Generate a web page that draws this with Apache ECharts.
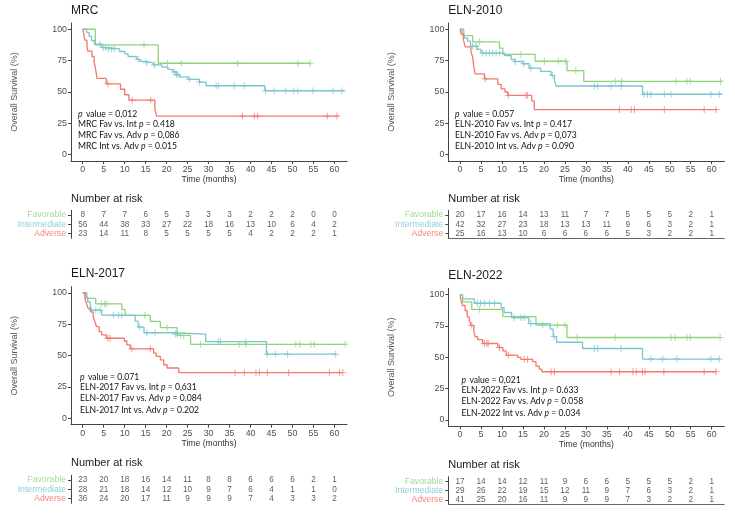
<!DOCTYPE html>
<html><head><meta charset="utf-8">
<script src="https://cdn.jsdelivr.net/npm/echarts@6/dist/echarts.min.js"></script>
<style>html,body{margin:0;padding:0;background:#fff}#c{width:735px;height:513px}</style>
</head><body><div id="c"></div>
<script>
// ---------- shared ----------
const timeTicks = [0,5,10,15,20,25,30,35,40,45,50,55,60];
const survTicks = [0,25,50,75,100];
const groups = ['Favorable','Intermediate','Adverse'];
const riskTimes = [0,5,10,15,20,25,30,35,40,45,50,55,60];

// ---------- MRC ----------
const mrcFavT = [0,3.0,18.0,54.2];
const mrcFavS = [100,87.5,72.9,72.9];
const mrcFavC = [14.6,20.2,23.5,36.9,51.3,54.2];
const mrcIntT = [0,0.9,1.5,2.1,2.8,4.5,6.1,8.8,10.0,10.8,12.8,13.6,15.2,16.8,18.9,20.3,21.5,22.3,23.1,25.1,27.8,29.4,43.4,62.4];
const mrcIntS = [100,97.6,94.4,91.0,88.1,85.4,84.4,82.3,80.4,78.3,76.0,74.4,73.3,71.7,69.9,68.0,66.0,63.8,62.0,60.1,57.9,55.0,51.0,51.0];
const mrcIntC = [4.1,4.9,5.4,6.1,6.9,7.5,13.2,15.2,17.1,21.9,22.3,22.7,25.4,27.8,31.8,32.3,36.1,38.5,43.6,45.6,48.4,50.3,51.3,54.9,59.7,61.8];
const mrcAdvT = [0,0.3,0.5,1.0,1.2,2.2,2.7,3.0,3.2,3.4,5.6,9.0,10.0,11.0,17.2,17.6,61.0];
const mrcAdvS = [100,95.7,91.3,87.0,82.6,78.3,73.9,69.6,65.2,60.9,56.5,52.2,47.8,43.5,36.3,30.8,30.8];
const mrcAdvC = [6.0,11.8,16.2,38.1,40.9,41.7,58.3,60.6];
const mrcRiskFav = [8,7,7,6,5,3,3,3,2,2,2,0,0];
const mrcRiskInt = [56,44,38,33,27,22,18,16,13,10,6,4,2];
const mrcRiskAdv = [23,14,11,8,5,5,5,5,4,2,2,2,1];
const mrcNotes = ['value = 0,012','MRC Fav vs. Int ','= 0.418','MRC Fav vs. Adv ','= 0,086','MRC Int vs. Adv ','= 0.015'];

// ---------- ELN-2010 ----------
const e10FavT = [0,0.9,3.0,9.4,10.2,17.9,25.5,29.5,62.4];
const e10FavS = [100,95,90,85,80,74.5,67,58.5,58.5];
const e10FavC = [4.6,14.5,20.1,23.4,25.2,27.6,37.0,38.5,51.5,54.1,54.9,62.1];
const e10IntT = [0,0.5,1.0,1.8,2.5,4.1,5.0,10.6,12.2,13.0,15.0,16.5,19.2,21.7,22.5,22.9,43.5,62.4];
const e10IntS = [100,95.6,93,90.5,86.5,84,81,79,76,74.3,72.5,69,66.4,63.2,59.3,54.8,48.2,48.2];
const e10IntC = [3.0,3.8,5.4,6.2,7.0,7.8,8.6,9.4,13.1,15.2,16.9,22.0,32.0,32.8,36.0,38.4,43.9,44.7,45.5,48.7,50.3,59.8,61.8];
const e10AdvT = [0,0.3,0.8,1.2,2.6,3.0,3.2,3.4,3.6,5.8,9.0,9.8,10.7,11.4,17.1,17.7,61.2];
const e10AdvS = [100,96,92,86,82,78,72,68,64.5,60.5,56,52.5,50,47.3,43,36,36];
const e10AdvC = [6.0,11.5,15.7,16.1,38.0,40.8,41.6,48.7,58.2,61.0];
const e10RiskFav = [20,17,16,14,13,11,7,7,5,5,5,2,1];
const e10RiskInt = [42,32,27,23,18,13,13,11,9,6,3,2,1];
const e10RiskAdv = [25,16,13,10,6,6,6,6,5,3,2,2,1];
const e10Notes = ['value = 0.057','ELN-2010 Fav vs. Int ','= 0.417','ELN-2010 Fav vs. Adv ','= 0,073','ELN-2010 Int vs. Adv ','= 0.090'];

// ---------- ELN-2017 ----------
const e17FavT = [0,1.0,3.1,9.3,10.1,16.1,18.5,22.5,25.7,62.6];
const e17FavS = [100,95.7,91.3,86.9,82.2,77.3,72.4,66.2,59.1,59.1];
const e17FavC = [4.5,5.2,5.7,14.8,20.1,23.4,24.1,28.1,37.3,38.9,50.8,51.8,54.4,55.2,62.6];
const e17IntT = [0,0.7,1.2,1.8,4.5,12.5,13.2,14.6,21.5,29.3,43.8,60.4];
const e17IntS = [100,96.4,92.9,86.3,82.3,77.5,72.8,68.3,67.2,61.2,51.2,51.2];
const e17IntC = [2.1,3.1,4.1,7.3,8.5,9.3,13.6,15.3,17.2,22.1,22.5,32.3,32.8,38.9,44.0,45.9,48.8,60.3];
const e17AdvT = [0,0.5,0.9,1.3,1.9,2.5,2.9,3.3,3.9,4.5,5.6,9.9,10.5,11.3,16.9,17.5,18.5,19.3,20.1,22.9,62.0];
const e17AdvS = [100,95.5,91.6,87.6,84.9,81.0,77.0,73.1,69.2,66.6,63.9,61.7,58.6,55.5,52.0,49.4,46.7,42.8,40.2,36.5,36.5];
const e17AdvC = [6.0,6.5,11.7,16.1,36.3,38.5,41.3,42.1,44.0,49.1,58.8,61.2,62.0];
const e17RiskFav = [23,20,18,16,14,11,8,8,6,6,6,2,1];
const e17RiskInt = [28,21,18,14,12,10,9,7,6,4,1,1,0];
const e17RiskAdv = [36,24,20,17,11,9,9,9,7,4,3,3,2];
const e17Notes = ['value = 0.071','ELN-2017 Fav vs. Int ','= 0,631','ELN-2017 Fav vs. Adv ','= 0.084','ELN-2017 Int vs. Adv ','= 0.202'];

// ---------- ELN-2022 ----------
const e22FavT = [0,0.6,2.8,10.2,18.1,25.5,62.0];
const e22FavS = [100,94.1,88.2,82.4,75.6,65.8,65.8];
const e22FavC = [4.6,19.7,23.2,25.0,27.9,37.0,50.3,51.3,54.1,54.9,62.0];
const e22IntT = [0,0.6,3.4,9.8,10.5,12.3,16.4,21.5,22.2,23.0,29.2,43.5,62.0];
const e22IntS = [100,96.6,93.1,89.6,85.7,81.6,76.8,72.5,66.5,62.0,57.0,48.6,48.6];
const e22IntC = [4.1,4.9,5.8,7.0,8.2,12.9,14.5,15.3,16.9,22.4,32.0,32.8,38.4,45.5,48.3,51.7,59.8,61.8];
const e22AdvT = [0,0.2,0.6,1.2,1.7,2.2,2.6,3.3,3.6,4.2,5.4,9.0,10.2,11.0,13.7,14.5,17.3,18.1,18.9,19.5,61.0];
const e22AdvS = [100,96.1,91.3,87.3,82.1,79.4,75.4,70.2,66.3,64.1,61.0,57.8,55.1,51.7,50.0,48.3,46.5,43.0,40.5,38.5,38.5];
const e22AdvC = [2.8,5.8,6.4,6.7,9.4,11.5,15.3,16.1,21.7,22.5,36.0,38.0,41.2,42.0,43.5,44.1,48.6,58.2,61.0];
const e22RiskFav = [17,14,14,12,11,9,6,6,5,5,5,2,1];
const e22RiskInt = [29,26,22,19,15,12,11,9,7,6,3,2,1];
const e22RiskAdv = [41,25,20,16,11,9,9,9,7,3,2,2,1];
const e22Notes = ['value = 0,021','ELN-2022 Fav vs. Int ','= 0.633','ELN-2022 Fav vs. Adv ','= 0.058','ELN-2022 Int vs. Adv ','= 0.034'];

// ---------- styles / layout ----------
const COLORS = ['#8fd47c','#7cc5cf','#f5786a'];
const LABEL_COLORS = ['#a3dc93','#8fcfd8','#f8887a'];
const AXIS = '#444';
const W = 276, H = 138, RH = 28;
const XMIN = -2.8, XMAX = 63;

const panels = [
  {title:'MRC', L:71, T:23, RT:210.3, titleTop:5, riskTitleTop:193, noteX:78, noteY:108, riskLine:false,
   curves:[[mrcFavT,mrcFavS,mrcFavC],[mrcIntT,mrcIntS,mrcIntC],[mrcAdvT,mrcAdvS,mrcAdvC]],
   risk:[mrcRiskFav,mrcRiskInt,mrcRiskAdv], notes:mrcNotes},
  {title:'ELN-2010', L:448.3, T:23, RT:210.3, titleTop:5, riskTitleTop:193, noteX:455, noteY:108, riskLine:true,
   curves:[[e10FavT,e10FavS,e10FavC],[e10IntT,e10IntS,e10IntC],[e10AdvT,e10AdvS,e10AdvC]],
   risk:[e10RiskFav,e10RiskInt,e10RiskAdv], notes:e10Notes},
  {title:'ELN-2017', L:71, T:286.7, RT:475.3, titleTop:268, riskTitleTop:457, noteX:80, noteY:371.5, riskLine:false,
   curves:[[e17FavT,e17FavS,e17FavC],[e17IntT,e17IntS,e17IntC],[e17AdvT,e17AdvS,e17AdvC]],
   risk:[e17RiskFav,e17RiskInt,e17RiskAdv], notes:e17Notes},
  {title:'ELN-2022', L:448.3, T:288.3, RT:476.7, titleTop:270, riskTitleTop:459, noteX:461.5, noteY:374.5, riskLine:true,
   curves:[[e22FavT,e22FavS,e22FavC],[e22IntT,e22IntS,e22IntC],[e22AdvT,e22AdvS,e22AdvC]],
   risk:[e22RiskFav,e22RiskInt,e22RiskAdv], notes:e22Notes}
];

const PLUS = 'path://M-0.14,-1L0.14,-1L0.14,-0.14L1,-0.14L1,0.14L0.14,0.14L0.14,1L-0.14,1L-0.14,0.14L-1,0.14L-1,-0.14L-0.14,-0.14Z';
function survAt(T,S,t){ let v=S[0]; for(let i=0;i<T.length;i++){ if(T[i]<=t) v=S[i]; } return v; }

const option = {animation:false, backgroundColor:'#fff', title:[], grid:[], xAxis:[], yAxis:[], series:[], graphic:[]};
const FONT = '"Liberation Sans", Arial, sans-serif';
const NOTEFONT = 'Lato, "Open Sans", sans-serif';

panels.forEach((p,pi)=>{
  const gKM = pi*2, gR = pi*2+1;
  option.title.push({text:p.title, left:p.L, top:p.titleTop, padding:0,
    textStyle:{fontFamily:FONT, fontSize:12, fontWeight:'normal', color:'#1a1a1a'}});
  option.title.push({text:'Number at risk', left:p.L, top:p.riskTitleTop, padding:0,
    textStyle:{fontFamily:FONT, fontSize:11, fontWeight:'normal', color:'#1a1a1a'}});
  option.grid.push({left:p.L, top:p.T, width:W, height:H});
  option.grid.push({left:p.L, top:p.RT, width:W, height:RH});
  option.xAxis.push({type:'value', gridIndex:gKM, min:XMIN, max:XMAX,
    name:'Time (months)', nameLocation:'middle', nameGap:14,
    nameTextStyle:{fontFamily:FONT, fontSize:8.6, color:'#333'},
    axisLine:{show:true, onZero:false, lineStyle:{color:AXIS, width:1}},
    axisTick:{show:true, length:3, customValues:timeTicks, lineStyle:{color:AXIS}},
    axisLabel:{customValues:timeTicks, fontFamily:FONT, fontSize:8.8, color:'#4d4d4d', margin:4},
    splitLine:{show:false}});
  option.yAxis.push({type:'value', gridIndex:gKM, min:-5, max:105,
    name:'Overall Survival (%)', nameLocation:'middle', nameGap:52,
    nameTextStyle:{fontFamily:FONT, fontSize:9, color:'#555'},
    axisLine:{show:true, onZero:false, lineStyle:{color:AXIS, width:1}},
    axisTick:{show:true, length:3, customValues:survTicks, lineStyle:{color:AXIS}},
    axisLabel:{customValues:survTicks, fontFamily:FONT, fontSize:8.8, color:'#4d4d4d', margin:4},
    splitLine:{show:false}});
  option.xAxis.push({type:'value', gridIndex:gR, min:XMIN, max:XMAX,
    axisLine:{show:p.riskLine, onZero:false, lineStyle:{color:'#666', width:1}},
    axisTick:{show:false}, axisLabel:{show:false}, splitLine:{show:false}});
  option.yAxis.push({type:'category', gridIndex:gR, data:groups, inverse:true,
    axisLine:{show:true, onZero:false, lineStyle:{color:AXIS, width:1}},
    axisTick:{show:true, length:3, alignWithLabel:true, interval:0, lineStyle:{color:AXIS}},
    axisLabel:{interval:0, fontFamily:FONT, fontSize:8.7, margin:5,
      formatter:(v,i)=>'{g'+groups.indexOf(v)+'|'+v+'}',
      rich:{g0:{color:LABEL_COLORS[0],fontFamily:FONT,fontSize:8.7},g1:{color:LABEL_COLORS[1],fontFamily:FONT,fontSize:8.7},g2:{color:LABEL_COLORS[2],fontFamily:FONT,fontSize:8.7}}},
    splitLine:{show:false}});
  p.curves.forEach((c,ci)=>{
    const [T,S,C] = c;
    option.series.push({type:'line', xAxisIndex:gKM, yAxisIndex:gKM, step:'end', showSymbol:false, symbol:'none',
      data:T.map((t,i)=>[t,S[i]]), lineStyle:{color:COLORS[ci], width:1.3}, z:2+ci, silent:true});
    option.series.push({type:'scatter', xAxisIndex:gKM, yAxisIndex:gKM, symbol:PLUS, symbolSize:6.8,
      data:C.map(t=>[t,survAt(T,S,t)]), itemStyle:{color:COLORS[ci]}, z:5+ci, silent:true});
  });
  const rdata = [];
  p.risk.forEach((arr,gi)=>arr.forEach((n,j)=>rdata.push([riskTimes[j], gi, n])));
  option.series.push({type:'scatter', xAxisIndex:gR, yAxisIndex:gR, symbolSize:0.1,
    itemStyle:{color:'rgba(0,0,0,0)'}, data:rdata, silent:true,
    label:{show:true, position:'inside', formatter:q=>String(q.value[2]),
      fontFamily:FONT, fontSize:8.2, color:'#333'}});
  // annotations
  const n = p.notes;
  const st = {a:{fontFamily:NOTEFONT,fontSize:8.6,color:'#111'}, i:{fontFamily:NOTEFONT,fontSize:8.6,fontStyle:'italic',color:'#111'}};
  const lines = ['{i|p} {a|'+n[0]+'}', '{a|'+n[1]+'}{i|p}{a| '+n[2]+'}', '{a|'+n[3]+'}{i|p}{a| '+n[4]+'}', '{a|'+n[5]+'}{i|p}{a| '+n[6]+'}'];
  lines.forEach((s,li)=>{
    option.graphic.push({type:'text', left:p.noteX, top:p.noteY+li*11.3, z:20,
      style:{text:s, rich:st, fill:'#111'}});
  });
});

const chart = echarts.init(document.getElementById('c'));
chart.setOption(option);
</script></body></html>
